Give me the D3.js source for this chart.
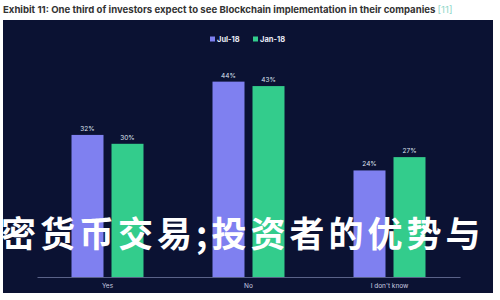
<!DOCTYPE html>
<html>
<head>
<meta charset="utf-8">
<script src="https://cdn.jsdelivr.net/npm/d3@7"></script>
<style>
  body { margin: 0; background: #fff; }
</style>
</head>
<body>
<div id="chart"></div>
<script>
// data
let categories = ['Yes', 'No', "I don't know"];
let seriesNames = ['Jul-18', 'Jan-18'];
let jul18 = [32, 44, 24];
let jan18 = [30, 43, 27];

let width = 500,
  height = 300;

let colors = {
  'Jul-18': '#7f80f0',
  'Jan-18': '#33cc8c'
};

let svg = d3.select('#chart')
  .append('svg')
  .attr('width', width)
  .attr('height', height);

// title above the dark panel
let title = svg.append('text')
  .attr('x', 3)
  .attr('y', 13)
  .style('font-family', 'Inter, Roboto, sans-serif')
  .style('font-weight', 'bold')
  .style('font-size', '9.6px')
  .attr('fill', '#333');
title.append('tspan')
  .text('Exhibit 11: One third of investors expect to see Blockchain implementation in their companies ');
title.append('tspan')
  .attr('fill', '#8fd6c8')
  .style('font-weight', 'normal')
  .text('[11]');

// dark panel
svg.append('rect')
  .attr('x', 3)
  .attr('y', 20)
  .attr('width', 490)
  .attr('height', 273)
  .attr('fill', '#0b1233');

// scales
let x0 = d3.scaleBand()
  .domain(categories)
  .range([37, 460]);

let x1 = d3.scaleBand()
  .domain(seriesNames)
  .range([-36, 36])
  .paddingInner(0.2);

let y = d3.scaleLinear()
  .domain([0, 50])
  .range([277, 55]);

let rows = categories.map(function(c, i) {
  return { cat: c, values: [
    { name: 'Jul-18', value: jul18[i] },
    { name: 'Jan-18', value: jan18[i] }
  ] };
});

// bars
let groups = svg.selectAll('g.group')
  .data(rows)
  .enter()
  .append('g')
  .attr('class', 'group')
  .attr('transform', function(d) {
    return `translate(${x0(d.cat) + x0.bandwidth() / 2},0)`;
  });

groups.selectAll('rect')
  .data(function(d) { return d.values; })
  .enter()
  .append('rect')
  .attr('x', function(d) { return x1(d.name); })
  .attr('y', function(d) { return y(d.value); })
  .attr('width', x1.bandwidth())
  .attr('height', function(d) { return y(0) - y(d.value); })
  .attr('fill', function(d) { return colors[d.name]; });

// value labels
groups.selectAll('text.val')
  .data(function(d) { return d.values; })
  .enter()
  .append('text')
  .attr('class', 'val')
  .attr('x', function(d) { return x1(d.name) + x1.bandwidth() / 2; })
  .attr('y', function(d) { return y(d.value) - 4; })
  .attr('text-anchor', 'middle')
  .style('font-family', 'Inter, Roboto, sans-serif')
  .style('font-size', '6.5px')
  .attr('fill', '#dfe3f0')
  .text(function(d) { return d.value + '%'; });

// x axis
let xAxis = svg.append('g')
  .attr('transform', `translate(0,${y(0)})`)
  .call(d3.axisBottom(x0).tickSize(0).tickPadding(6));
xAxis.select('.domain').attr('stroke', '#5a6288');
xAxis.selectAll('text')
  .style('font-family', 'Inter, Roboto, sans-serif')
  .style('font-size', '6.5px')
  .attr('fill', '#c8cce0');

// legend
let legend = svg.append('g')
  .selectAll('g')
  .data(seriesNames)
  .enter()
  .append('g')
  .attr('transform', function(d, i) { return `translate(${210 + i * 43},39)`; });

legend.append('rect')
  .attr('x', 0)
  .attr('y', -2.5)
  .attr('width', 5)
  .attr('height', 5)
  .attr('fill', function(d) { return colors[d]; });

legend.append('text')
  .attr('x', 7)
  .attr('y', 3)
  .style('font-family', 'Inter, Roboto, sans-serif')
  .style('font-weight', 'bold')
  .style('font-size', '7.5px')
  .attr('fill', '#e8eaf5')
  .text(function(d) { return d; });

// overlay caption across the chart
svg.append('text')
  .attr('x', 1)
  .attr('y', 247)
  .style('font-family', '"Noto Sans CJK SC", sans-serif')
  .style('font-weight', 'bold')
  .style('font-size', '35px')
  .style('letter-spacing', '4px')
  .attr('fill', '#ffffff')
  .text('密货币交易;投资者的优势与');
</script>
</body>
</html>
